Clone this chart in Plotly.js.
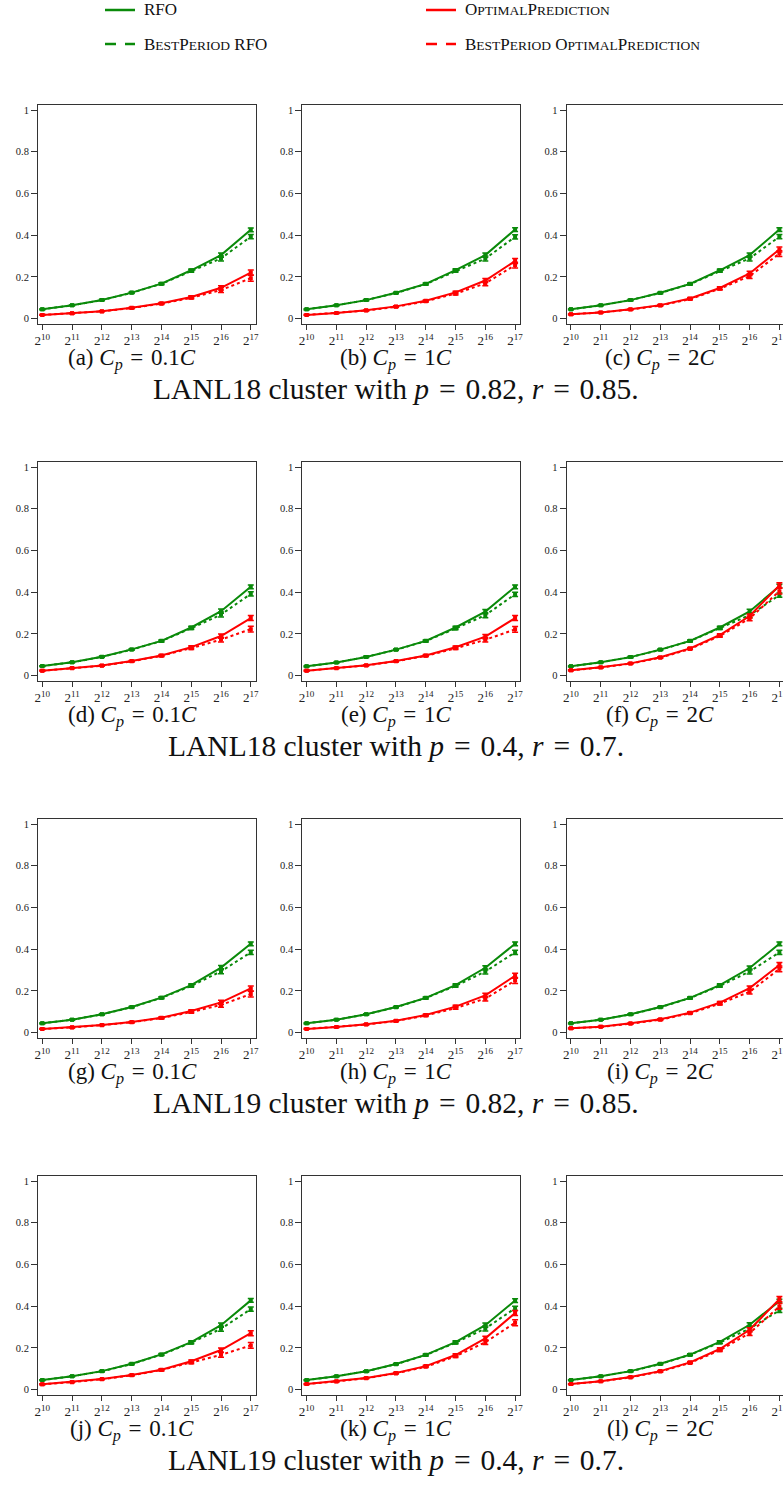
<!DOCTYPE html>
<html>
<head>
<meta charset="utf-8">
<script src="https://cdn.plot.ly/plotly-3.0.1.min.js"></script>
<style>
html, body { margin:0; padding:0; overflow:hidden; background:#fff; }
#chart { width:800px; height:1490px; }
</style>
</head>
<body>
<div id="chart"></div>
<script>
// x positions: exponents of 2
const xExp = [10, 11, 12, 13, 14, 15, 16, 17];
const xTickText = ['2<sup>10</sup>','2<sup>11</sup>','2<sup>12</sup>','2<sup>13</sup>','2<sup>14</sup>','2<sup>15</sup>','2<sup>16</sup>','2<sup>17</sup>'];
const yTickVals = [0, 0.2, 0.4, 0.6, 0.8, 1];
const yTickText = ['0', '0.2', '0.4', '0.6', '0.8', '1'];

// (a) LANL18 p=0.82 r=0.85, Cp=0.1C
const rfo_a    = [0.045, 0.064, 0.090, 0.125, 0.168, 0.232, 0.305, 0.426];
const bpRfo_a  = [0.045, 0.064, 0.089, 0.124, 0.167, 0.228, 0.289, 0.393];
const opt_a    = [0.018, 0.026, 0.036, 0.052, 0.074, 0.104, 0.148, 0.221];
const bpOpt_a  = [0.018, 0.026, 0.035, 0.051, 0.072, 0.100, 0.137, 0.194];
// (b) Cp=1C
const rfo_b    = [0.045, 0.064, 0.089, 0.124, 0.167, 0.233, 0.305, 0.427];
const bpRfo_b  = [0.045, 0.064, 0.089, 0.123, 0.166, 0.228, 0.288, 0.392];
const opt_b    = [0.018, 0.027, 0.040, 0.059, 0.086, 0.126, 0.183, 0.276];
const bpOpt_b  = [0.018, 0.027, 0.039, 0.057, 0.083, 0.120, 0.169, 0.257];
// (c) Cp=2C
const rfo_c    = [0.045, 0.064, 0.089, 0.124, 0.167, 0.232, 0.305, 0.427];
const bpRfo_c  = [0.045, 0.064, 0.089, 0.123, 0.166, 0.228, 0.289, 0.393];
const opt_c    = [0.021, 0.030, 0.045, 0.065, 0.097, 0.147, 0.217, 0.332];
const bpOpt_c  = [0.021, 0.030, 0.044, 0.063, 0.094, 0.143, 0.204, 0.312];
// (d) LANL18 p=0.4 r=0.7, Cp=0.1C
const rfo_d    = [0.046, 0.064, 0.091, 0.126, 0.167, 0.231, 0.309, 0.426];
const bpRfo_d  = [0.046, 0.064, 0.090, 0.125, 0.166, 0.227, 0.293, 0.392];
const opt_d    = [0.024, 0.037, 0.049, 0.070, 0.097, 0.137, 0.190, 0.276];
const bpOpt_d  = [0.024, 0.036, 0.048, 0.069, 0.095, 0.132, 0.173, 0.223];
// (e) Cp=1C
const rfo_e    = [0.045, 0.063, 0.090, 0.125, 0.167, 0.231, 0.307, 0.426];
const bpRfo_e  = [0.045, 0.063, 0.090, 0.124, 0.166, 0.226, 0.290, 0.390];
const opt_e    = [0.024, 0.037, 0.050, 0.070, 0.097, 0.136, 0.187, 0.276];
const bpOpt_e  = [0.024, 0.036, 0.049, 0.069, 0.095, 0.131, 0.172, 0.222];
// (f) Cp=2C
const rfo_f    = [0.045, 0.064, 0.089, 0.125, 0.167, 0.231, 0.308, 0.429];
const bpRfo_f  = [0.045, 0.064, 0.089, 0.124, 0.166, 0.227, 0.290, 0.386];
const opt_f    = [0.026, 0.040, 0.059, 0.088, 0.131, 0.195, 0.286, 0.433];
const bpOpt_f  = [0.026, 0.039, 0.058, 0.086, 0.128, 0.190, 0.274, 0.405];
// (g) LANL19 p=0.82 r=0.85, Cp=0.1C
const rfo_g    = [0.045, 0.062, 0.088, 0.123, 0.168, 0.228, 0.312, 0.426];
const bpRfo_g  = [0.045, 0.062, 0.088, 0.122, 0.167, 0.224, 0.294, 0.385];
const opt_g    = [0.018, 0.026, 0.037, 0.051, 0.072, 0.104, 0.145, 0.212];
const bpOpt_g  = [0.018, 0.025, 0.036, 0.050, 0.070, 0.099, 0.133, 0.185];
// (h) Cp=1C
const rfo_h    = [0.045, 0.062, 0.088, 0.123, 0.167, 0.228, 0.311, 0.426];
const bpRfo_h  = [0.045, 0.062, 0.088, 0.122, 0.166, 0.224, 0.293, 0.385];
const opt_h    = [0.018, 0.027, 0.040, 0.057, 0.085, 0.125, 0.179, 0.273];
const bpOpt_h  = [0.018, 0.027, 0.039, 0.056, 0.082, 0.118, 0.163, 0.250];
// (i) Cp=2C
const rfo_i    = [0.045, 0.062, 0.088, 0.123, 0.167, 0.228, 0.310, 0.426];
const bpRfo_i  = [0.045, 0.062, 0.088, 0.122, 0.166, 0.224, 0.293, 0.385];
const opt_i    = [0.021, 0.029, 0.045, 0.064, 0.096, 0.144, 0.214, 0.324];
const bpOpt_i  = [0.021, 0.028, 0.043, 0.062, 0.093, 0.139, 0.196, 0.306];
// (j) LANL19 p=0.4 r=0.7, Cp=0.1C
const rfo_j    = [0.046, 0.064, 0.089, 0.124, 0.169, 0.228, 0.309, 0.428];
const bpRfo_j  = [0.046, 0.064, 0.088, 0.123, 0.168, 0.225, 0.292, 0.386];
const opt_j    = [0.026, 0.037, 0.051, 0.070, 0.096, 0.136, 0.190, 0.271];
const bpOpt_j  = [0.026, 0.036, 0.050, 0.069, 0.094, 0.130, 0.167, 0.212];
// (k) Cp=1C
const rfo_k    = [0.046, 0.064, 0.088, 0.123, 0.167, 0.228, 0.309, 0.427];
const bpRfo_k  = [0.046, 0.064, 0.088, 0.122, 0.166, 0.225, 0.293, 0.390];
const opt_k    = [0.027, 0.040, 0.056, 0.080, 0.113, 0.166, 0.246, 0.367];
const bpOpt_k  = [0.027, 0.039, 0.055, 0.078, 0.110, 0.160, 0.227, 0.321];
// (l) Cp=2C
const rfo_l    = [0.046, 0.064, 0.089, 0.124, 0.168, 0.229, 0.311, 0.424];
const bpRfo_l  = [0.046, 0.064, 0.088, 0.123, 0.167, 0.226, 0.293, 0.380];
const opt_l    = [0.027, 0.041, 0.061, 0.089, 0.131, 0.195, 0.287, 0.434];
const bpOpt_l  = [0.027, 0.040, 0.059, 0.087, 0.128, 0.189, 0.271, 0.399];

// error bar half-widths (similar across panels)
const errRfo   = [0.002, 0.002, 0.003, 0.003, 0.004, 0.006, 0.010, 0.009];
const errBpRfo = [0.002, 0.002, 0.003, 0.003, 0.004, 0.006, 0.012, 0.010];
const errOpt   = [0.002, 0.002, 0.002, 0.003, 0.004, 0.006, 0.010, 0.012];
const errBpOpt = [0.002, 0.002, 0.002, 0.003, 0.004, 0.006, 0.011, 0.014];

const panelLetters = ['a','b','c','d','e','f','g','h','i','j','k','l'];
const cpValues = ['0.1', '1', '2'];
const EQ = '&#8196;=&#8196;';
const groupCaptions = [
  'LANL18 cluster with <i>p</i>' + EQ + '0.82, <i>r</i>' + EQ + '0.85.',
  'LANL18 cluster with <i>p</i>' + EQ + '0.4, <i>r</i>' + EQ + '0.7.',
  'LANL19 cluster with <i>p</i>' + EQ + '0.82, <i>r</i>' + EQ + '0.85.',
  'LANL19 cluster with <i>p</i>' + EQ + '0.4, <i>r</i>' + EQ + '0.7.'
];

const panels = [
  [rfo_a, bpRfo_a, opt_a, bpOpt_a], [rfo_b, bpRfo_b, opt_b, bpOpt_b], [rfo_c, bpRfo_c, opt_c, bpOpt_c],
  [rfo_d, bpRfo_d, opt_d, bpOpt_d], [rfo_e, bpRfo_e, opt_e, bpOpt_e], [rfo_f, bpRfo_f, opt_f, bpOpt_f],
  [rfo_g, bpRfo_g, opt_g, bpOpt_g], [rfo_h, bpRfo_h, opt_h, bpOpt_h], [rfo_i, bpRfo_i, opt_i, bpOpt_i],
  [rfo_j, bpRfo_j, opt_j, bpOpt_j], [rfo_k, bpRfo_k, opt_k, bpOpt_k], [rfo_l, bpRfo_l, opt_l, bpOpt_l]
];

const W = 800, H = 1490;
const GREEN = '#0a8a0a', RED = '#ff0000';
const FONT = 'Liberation Serif, Times New Roman, serif';
const px = v => v / W;
const py = v => 1 - v / H;

const traces = [];
const layout = {
  width: W, height: H,
  margin: {l:0, r:0, t:0, b:0},
  paper_bgcolor: '#fff', plot_bgcolor: '#fff',
  showlegend: false,
  font: {family: FONT, color: '#222'},
  annotations: [], shapes: []
};

function addTrace(k, y, err, color, dash) {
  const sfx = k === 0 ? '' : String(k + 1);
  traces.push({
    type: 'scatter', mode: 'lines+markers',
    x: xExp, y: y,
    xaxis: 'x' + sfx, yaxis: 'y' + sfx,
    line: {color: color, width: 2, dash: dash},
    marker: {color: color, size: 4, symbol: 'square'},
    error_y: {type: 'data', array: err, visible: true, color: color, thickness: 1.5, width: 3},
    hoverinfo: 'skip'
  });
}

for (let k = 0; k < 12; k++) {
  const row = Math.floor(k / 3), col = k % 3;
  const [rfo, bpRfo, opt, bpOpt] = panels[k];
  addTrace(k, bpRfo, errBpRfo, GREEN, 'dot');
  addTrace(k, rfo, errRfo, GREEN, 'solid');
  addTrace(k, bpOpt, errBpOpt, RED, 'dot');
  addTrace(k, opt, errOpt, RED, 'solid');

  const left = 38 + 264.3 * col, right = left + 218;
  const top = 105 + 357 * row, bottom = top + 218.7;
  const sfx = k === 0 ? '' : String(k + 1);
  layout['xaxis' + sfx] = {
    domain: [px(left), px(right)], anchor: 'y' + sfx,
    range: [9.855, 17.175], tickmode: 'array', tickvals: xExp, ticktext: xTickText,
    ticks: 'outside', ticklen: 5, tickwidth: 1, tickcolor: '#333',
    showline: true, linecolor: '#333', linewidth: 1, mirror: true,
    showgrid: false, zeroline: false, fixedrange: true,
    tickfont: {family: FONT, size: 13, color: '#222'}
  };
  layout['yaxis' + sfx] = {
    domain: [py(bottom), py(top)], anchor: 'x' + sfx,
    range: [-0.024, 1.024], tickmode: 'array', tickvals: yTickVals, ticktext: yTickText,
    ticks: 'outside', ticklen: 6, tickwidth: 1, tickcolor: '#333',
    showline: true, linecolor: '#333', linewidth: 1, mirror: true,
    showgrid: false, zeroline: false, fixedrange: true,
    tickfont: {family: FONT, size: 10.5, color: '#222'}
  };
  // panel caption
  layout.annotations.push({
    xref: 'paper', yref: 'paper', x: px(132 + 264 * col), y: py(359 + 357 * row),
    xanchor: 'center', yanchor: 'middle', showarrow: false,
    text: '(' + panelLetters[k] + ') <i>C</i><sub><i>p</i></sub>' + EQ + cpValues[col] + '<i>C</i>',
    font: {family: FONT, size: 23, color: '#111'}
  });
}
// group captions
for (let r = 0; r < 4; r++) {
  layout.annotations.push({
    xref: 'paper', yref: 'paper', x: px(396), y: py(389 + 357 * r),
    xanchor: 'center', yanchor: 'middle', showarrow: false,
    text: groupCaptions[r],
    font: {family: FONT, size: 29.5, color: '#111'}
  });
}

// legend (drawn manually, two columns)
const sc = (big, small) => big + '<span style="font-size:13.5px">' + small + '</span>';
const legendItems = [
  {x: 105, y: 10, color: GREEN, dash: 'solid', text: 'RFO'},
  {x: 105, y: 44, color: GREEN, dash: 'dash', text: sc('B','EST') + sc('P','ERIOD') + ' RFO'},
  {x: 426, y: 10, color: RED, dash: 'solid', text: sc('O','PTIMAL') + sc('P','REDICTION')},
  {x: 426, y: 44, color: RED, dash: 'dash', text: sc('B','EST') + sc('P','ERIOD') + ' ' + sc('O','PTIMAL') + sc('P','REDICTION')}
];
legendItems.forEach(it => {
  if (it.dash === 'solid') {
    layout.shapes.push({type: 'line', xref: 'paper', yref: 'paper',
      x0: px(it.x), x1: px(it.x + 30), y0: py(it.y), y1: py(it.y),
      line: {color: it.color, width: 2.5}});
  } else {
    layout.shapes.push({type: 'line', xref: 'paper', yref: 'paper',
      x0: px(it.x), x1: px(it.x + 11), y0: py(it.y), y1: py(it.y),
      line: {color: it.color, width: 2.5}});
    layout.shapes.push({type: 'line', xref: 'paper', yref: 'paper',
      x0: px(it.x + 20), x1: px(it.x + 30), y0: py(it.y), y1: py(it.y),
      line: {color: it.color, width: 2.5}});
  }
  layout.annotations.push({
    xref: 'paper', yref: 'paper', x: px(it.x + 37), y: py(it.y),
    xanchor: 'left', yanchor: 'middle', showarrow: false,
    text: it.text, font: {family: FONT, size: 17, color: '#111'}
  });
});

Plotly.newPlot('chart', traces, layout, {staticPlot: true, displayModeBar: false});
</script>
</body>
</html>
